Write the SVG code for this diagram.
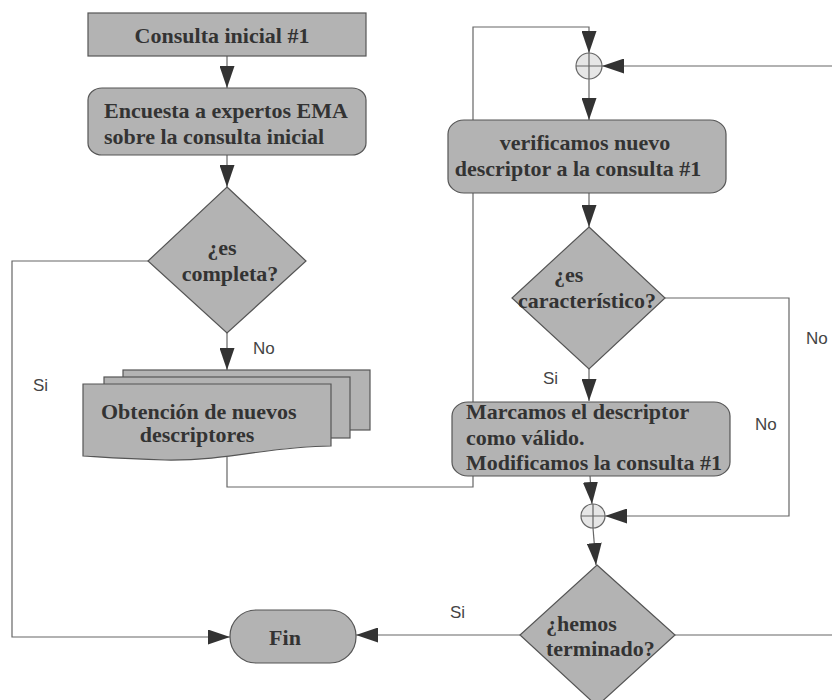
<svg xmlns="http://www.w3.org/2000/svg" width="832" height="700" viewBox="0 0 832 700">
<defs>
<marker id="ah" markerUnits="userSpaceOnUse" markerWidth="22" markerHeight="15" refX="22" refY="7.5" orient="auto">
<path d="M0,0 L22,7.5 L0,15 Z" fill="#333"/>
</marker>
</defs>
<style>
.n{fill:#b3b3b3;stroke:#555;stroke-width:1.2}
.c{fill:none;stroke:#666;stroke-width:1.2}
.a{marker-end:url(#ah)}
.t{font-family:"Liberation Serif","Times New Roman",serif;font-weight:bold;font-size:22px;fill:#333}
.l{font-family:"Liberation Sans",Arial,sans-serif;font-size:17px;fill:#444}
.j{fill:#e6e6e6;stroke:#666;stroke-width:1.2}
</style>
<rect width="832" height="700" fill="#fff"/>
<g id="connectors">
<path class="c a" d="M227,56 V88"/>
<path class="c a" d="M227,155 V187"/>
<path class="c a" d="M227,333 V370"/>
<path class="c a" d="M148,261 H12 V637 H230"/>
<path class="c a" d="M227,457 V487 H473 V27 H589 V53"/>
<path class="c a" d="M832,66 H602"/>
<path class="c a" d="M589,79 V120"/>
<path class="c a" d="M589,193 V227"/>
<path class="c a" d="M665,298 H789 V516 H605"/>
<path class="c a" d="M589,369 V401"/>
<path class="c a" d="M590,476 L592,504"/>
<path class="c a" d="M593,528 L596,565"/>
<path class="c a" d="M520,635 H356"/>
<path class="c" d="M675,635 H832"/>
</g>
<g id="labels">
<text class="l" x="253" y="354">No</text>
<text class="l" x="33" y="391">Si</text>
<text class="l" x="806" y="344">No</text>
<text class="l" x="755" y="430">No</text>
<text class="l" x="543" y="384">Si</text>
<text class="l" x="450" y="618">Si</text>
</g>
<g id="consulta">
<rect class="n" x="88" y="13" width="278" height="43"/>
<text class="t" x="222" y="43" text-anchor="middle">Consulta inicial #1</text>
</g>
<g id="encuesta">
<rect class="n" x="88" y="88" width="278" height="67" rx="14" ry="12"/>
<text class="t" x="104" y="118">Encuesta a expertos EMA</text>
<text class="t" x="104" y="144">sobre la consulta inicial</text>
</g>
<g id="completa">
<path class="n" d="M227,187 L306,261 L227,333 L148,261 Z"/>
<text class="t" x="222" y="255" text-anchor="middle">¿es</text>
<text class="t" x="230" y="281" text-anchor="middle">completa?</text>
</g>
<g id="obtencion">
<rect class="n" x="123" y="370" width="247" height="60"/>
<rect class="n" x="104" y="377" width="246" height="61"/>
<path class="n" d="M83,384 H331 V446 C 270,446 230,461 165,460 C 125,459 100,457 83,456 Z"/>
<text class="t" x="101" y="419">Obtención de nuevos</text>
<text class="t" x="197" y="442" text-anchor="middle">descriptores</text>
</g>
<g id="fin">
<rect class="n" x="230" y="610" width="126" height="53" rx="26" ry="26"/>
<text class="t" x="285" y="645" text-anchor="middle">Fin</text>
</g>
<g id="junction1">
<circle class="j" cx="589" cy="66" r="13"/>
<path class="c" d="M576,66 H602 M589,53 V79"/>
</g>
<g id="verificamos">
<rect class="n" x="448" y="120" width="278" height="73" rx="16" ry="14"/>
<text class="t" x="585" y="150" text-anchor="middle">verificamos nuevo</text>
<text class="t" x="578" y="176" text-anchor="middle">descriptor a la consulta #1</text>
</g>
<g id="caracteristico">
<path class="n" d="M589,227 L665,298 L589,369 L512,298 Z"/>
<text class="t" x="554" y="282">¿es</text>
<text class="t" x="518" y="308">característico?</text>
</g>
<g id="marcamos">
<rect class="n" x="452" y="402" width="278" height="74" rx="16" ry="14"/>
<text class="t" x="466" y="419">Marcamos el descriptor</text>
<text class="t" x="466" y="445">como válido.</text>
<text class="t" x="466" y="470">Modificamos la consulta #1</text>
</g>
<g id="junction2">
<circle class="j" cx="593" cy="516" r="12"/>
<path class="c" d="M581,516 H605 M593,504 V528"/>
</g>
<g id="terminado">
<path class="n" d="M597,565 L675,635 L597,706 L520,635 Z"/>
<text class="t" x="546" y="631">¿hemos</text>
<text class="t" x="546" y="656">terminado?</text>
</g>
</svg>
